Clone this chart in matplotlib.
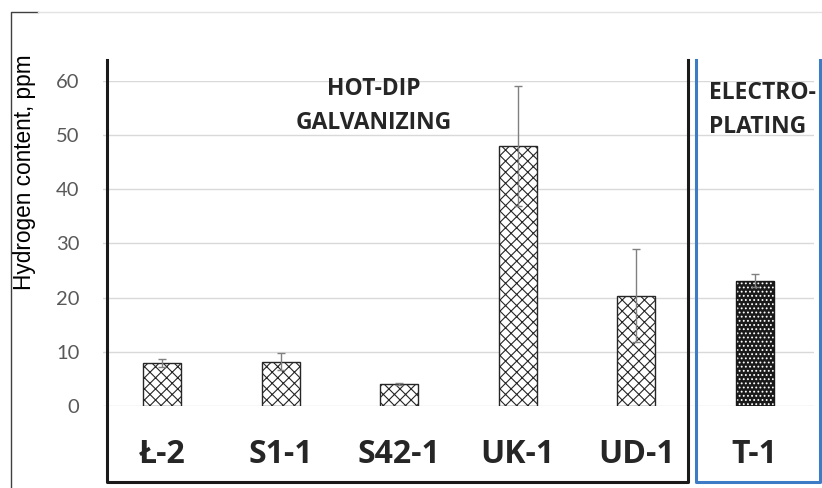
import matplotlib.pyplot as plt
from matplotlib.lines import Line2D

plt.rcParams['hatch.linewidth'] = 0.8

samples = ['Ł-2', 'S1-1', 'S42-1', 'UK-1', 'UD-1', 'T-1']
hydrogen = [7.9, 8.2, 4.0, 48.0, 20.4, 23.1]
spread = [0.7, 1.5, 0.2, 11.0, 8.5, 1.2]
yticks = [0, 10, 20, 30, 40, 50, 60]

W, H = 822, 488


def fx(px):
    return px / W


def fy(py):
    return 1 - py / H


fig = plt.figure(figsize=(W / 100, H / 100), dpi=100)
ax = fig.add_axes([fx(103), fy(406), (814 - 103) / W, (406 - 81) / H])

x = list(range(len(samples)))
# hot-dip galvanized samples: cross hatch
ax.bar(x[:5], hydrogen[:5], width=0.32, color='white', edgecolor='#262626',
       hatch='xxx', linewidth=1, zorder=2)
# electroplated sample: black with white dots
ax.bar(x[5], hydrogen[5], width=0.32, color='#1a1a1a', edgecolor='white',
       hatch='....', linewidth=0, zorder=2)
ax.bar(x[5], hydrogen[5], width=0.32, fill=False, edgecolor='#1a1a1a',
       linewidth=1, zorder=2)
ax.errorbar(x, hydrogen, yerr=spread, fmt='none', ecolor='#808080',
            elinewidth=1, capsize=3.2, capthick=1, zorder=3)

ax.set_xlim(-0.5, 5.5)
ax.set_ylim(0, 60)
ax.set_yticks(yticks)
ax.yaxis.grid(True, color='#d9d9d9', linewidth=1)
ax.set_axisbelow(True)
for s in ax.spines.values():
    s.set_visible(False)
ax.tick_params(axis='y', length=0, pad=17, labelsize=14.5, labelcolor='#595959')
for lbl in ax.get_yticklabels():
    lbl.set_family('Lato')

ax.set_xticks(x, samples)
ax.tick_params(axis='x', length=0, pad=41)
for lbl in ax.get_xticklabels():
    lbl.set_va('baseline')
    lbl.set_family('Open Sans')
    lbl.set_fontweight('bold')
    lbl.set_fontsize(23)
    lbl.set_color('#262626')

fig.text(fx(24), fy(172.5), 'Hydrogen content, ppm', rotation=90,
         ha='center', va='center', family='Liberation Sans', fontsize=16.3,
         color='black')

tkw = dict(va='baseline', family='Open Sans', fontweight='bold',
           fontsize=16.5, color='#262626')
fig.text(fx(374), fy(95), 'HOT-DIP', ha='center', **tkw)
fig.text(fx(374), fy(129), 'GALVANIZING', ha='center', **tkw)
fig.text(fx(709), fy(99), 'ELECTRO-', ha='left', **tkw)
fig.text(fx(709), fy(133), 'PLATING', ha='left', **tkw)

# group frames
fig.add_artist(Line2D([fx(107), fx(107), fx(688), fx(688)],
                      [fy(60), fy(482), fy(482), fy(60)],
                      color='#1a1a1a', linewidth=2.2))
fig.add_artist(Line2D([fx(696), fx(696), fx(819.5), fx(819.5)],
                      [fy(60), fy(482), fy(482), fy(60)],
                      color='#3d7cc4', linewidth=2.2))

# remains of the chart area border
fig.add_artist(Line2D([fx(11), fx(11), fx(38)], [fy(488), fy(12), fy(12)],
                      color='#404040', linewidth=1))
fig.add_artist(Line2D([fx(38), fx(822)], [fy(12), fy(12)],
                      color='#e3e3e3', linewidth=1))

fig.savefig('out.png', dpi=100)
